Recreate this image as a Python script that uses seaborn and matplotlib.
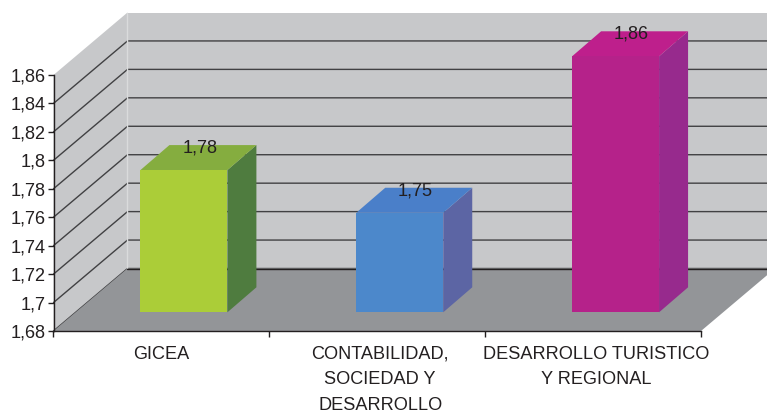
# Fake 3D column chart: seaborn draws the front faces, walls and depth faces are added around them.

import matplotlib
matplotlib.use('Agg')
import matplotlib.pyplot as plt
import matplotlib.transforms as mtransforms
import seaborn as sns

# 1. Data.

categories = ['GICEA', 'CONTABILIDAD,\nSOCIEDAD Y\nDESARROLLO', 'DESARROLLO TURISTICO\nY REGIONAL']
values = [1.78, 1.75, 1.86]
value_labels = ['1,78', '1,75', '1,86']
y_ticks = [1.68, 1.70, 1.72, 1.74, 1.76, 1.78, 1.80, 1.82, 1.84, 1.86]
y_tick_labels = ['1,68', '1,7', '1,72', '1,74', '1,76', '1,78', '1,8', '1,82', '1,84', '1,86']

front_colors = ['#ABCD38', '#4C88CB', '#B5228A']
top_colors = ['#85AD3F', '#4A7FC9', '#BE1F8C']
side_colors = ['#4F7C3F', '#5C65A4', '#972A8D']
wall_color = '#C7C8CA'
floor_color = '#939598'
ink = '#231F20'
font_size = 13.1

# 2. Figure and axes.

sns.set_style('white')
plt.rcParams['font.family'] = ['Liberation Sans', 'DejaVu Sans']

fig = plt.figure(figsize=(7.67, 4.16), dpi=100)
ax = fig.add_axes([53.5 / 767, 85 / 416, 647.5 / 767, 256 / 416])

sns.barplot(x=categories, y=values, hue=categories, palette=front_colors, width=0.403,
            saturation=1, legend=False, linewidth=0, ax=ax)

ymin, ymax = y_ticks[0], y_ticks[-1]
xmin, xmax = -0.5, 2.5
ax.set_xlim(xmin, xmax)
ax.set_ylim(ymin, ymax)

px_x = 3 / 647.5    # data units per pixel
px_y = (ymax - ymin) / 256
wall_dx, wall_dy = 74 * px_x, 62.5 * px_y
bar_dx, bar_dy = 29 * px_x, 25 * px_y

# 3. Walls, floor and grid.

ax.fill([xmin + wall_dx, xmax + wall_dx, xmax + wall_dx, xmin + wall_dx],
        [ymin + wall_dy, ymin + wall_dy, ymax + wall_dy, ymax + wall_dy],
        color=wall_color, lw=0, zorder=0, clip_on=False)
ax.fill([xmin, xmin + wall_dx, xmin + wall_dx, xmin],
        [ymin, ymin + wall_dy, ymax + wall_dy, ymax],
        color=wall_color, lw=0, zorder=0, clip_on=False)
ax.fill([xmin, xmax, xmax + wall_dx, xmin + wall_dx],
        [ymin, ymin, ymin + wall_dy, ymin + wall_dy],
        color=floor_color, lw=0, zorder=1, clip_on=False)

for tick in y_ticks[:-1]:
    ax.plot([xmin, xmin + wall_dx, xmax + wall_dx],
            [tick, tick + wall_dy, tick + wall_dy],
            color='#414143', lw=1, zorder=0.5, clip_on=False, solid_joinstyle='miter')
ax.plot([xmin + wall_dx, xmin + wall_dx], [ymin + wall_dy, ymax + wall_dy],
        color='#DADBDC', lw=1, zorder=0.6, clip_on=False)
# back edge of the floor sits above the floor fill
ax.plot([xmin + wall_dx, xmax + wall_dx], [ymin + wall_dy, ymin + wall_dy],
        color=ink, lw=1, zorder=1.5, clip_on=False)

# 4. Bars: move the front faces onto the floor, then add top and side faces.

shift = ax.transData + mtransforms.ScaledTranslation(22.5 / 100, 18.7 / 100, fig.dpi_scale_trans)

for i, bar in enumerate(ax.patches[:len(values)]):
    value = values[i]
    bar.set_y(ymin)
    bar.set_height(value - ymin)
    bar.set_transform(shift)
    bar.set_clip_on(False)
    bar.set_zorder(5)
    left = bar.get_x()
    right = left + bar.get_width()
    ax.fill([right, right + bar_dx, right + bar_dx, right],
            [ymin, ymin + bar_dy, value + bar_dy, value],
            color=side_colors[i], lw=0, zorder=4, clip_on=False, transform=shift)
    ax.fill([left, right, right + bar_dx, left + bar_dx],
            [value, value, value + bar_dy, value + bar_dy],
            color=top_colors[i], lw=0, zorder=4, clip_on=False, transform=shift)
    ax.annotate(value_labels[i], xy=(i, value), xycoords=shift,
                xytext=(11.4, 16), textcoords='offset points',
                ha='center', va='center', fontsize=font_size, color=ink, zorder=6)

# 5. Axes styling.

sns.despine(ax=ax, top=True, right=True)
for side in ['left', 'bottom']:
    ax.spines[side].set_color(ink)
    ax.spines[side].set_linewidth(1)
    ax.spines[side].set_zorder(3)

ax.set_yticks(y_ticks)
ax.set_yticklabels(y_tick_labels)
ax.set_xticks([-0.5, 0.5, 1.5, 2.5])
ax.set_xticklabels([])
ax.set_xticks([0, 1, 2], labels=categories, minor=True, linespacing=1.68)
ax.tick_params(axis='both', which='major', length=4, width=1, color=ink, left=True, bottom=True,
               labelsize=font_size, labelcolor=ink, pad=2)
ax.tick_params(axis='x', which='minor', length=0, labelsize=font_size, labelcolor=ink, pad=10.5)
ax.set_xlabel('')
ax.set_ylabel('')

# the two long labels sit a little right of their slot centres
for label, nudge in zip(ax.get_xticklabels(minor=True), [0, 3, 3.5]):
    label.set_transform(label.get_transform()
                        + mtransforms.ScaledTranslation(nudge / 100, 0, fig.dpi_scale_trans))

fig.savefig('out.png', dpi=100)
